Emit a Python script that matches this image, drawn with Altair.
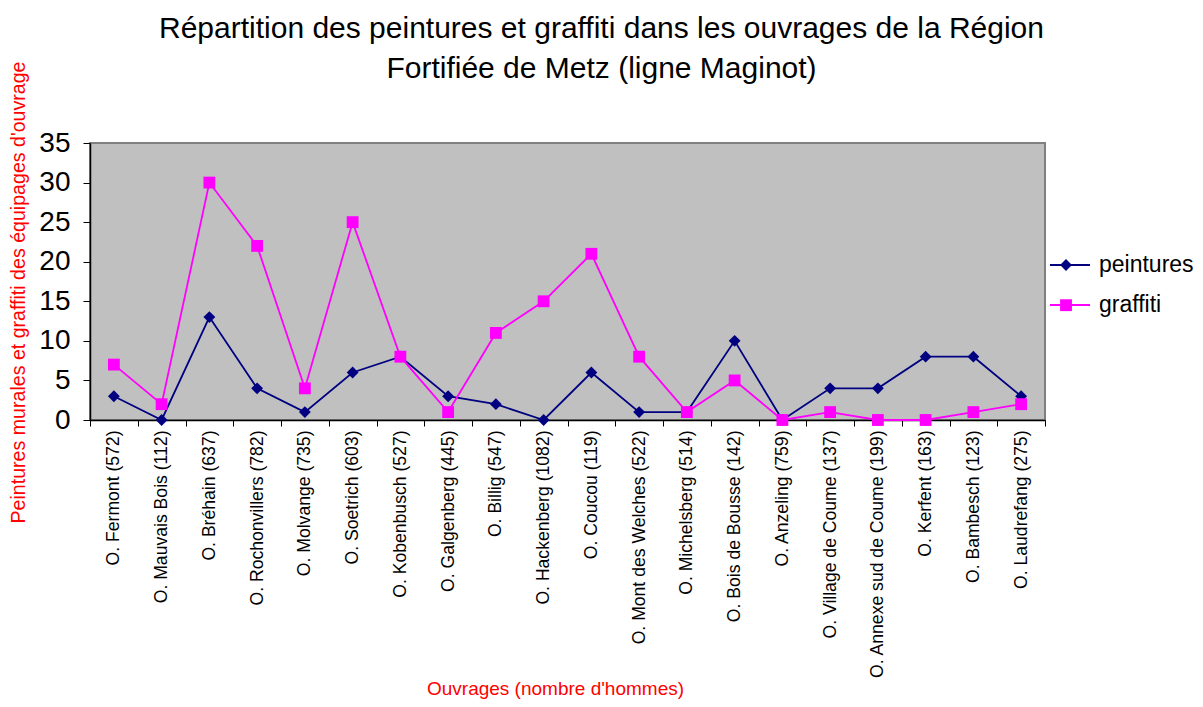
import altair as alt
import pandas as pd

ouvrages = [
    "O. Fermont (572)", "O. Mauvais Bois (112)", "O. Bréhain (637)",
    "O. Rochonvillers (782)", "O. Molvange (735)", "O. Soetrich (603)",
    "O. Kobenbusch (527)", "O. Galgenberg (445)", "O. Billig (547)",
    "O. Hackenberg (1082)", "O. Coucou (119)", "O. Mont des Welches (522)",
    "O. Michelsberg (514)", "O. Bois de Bousse (142)", "O. Anzeling (759)",
    "O. Village de Coume (137)", "O. Annexe sud de Coume (199)",
    "O. Kerfent (163)", "O. Bambesch (123)", "O. Laudrefang (275)",
]
peintures = [3, 0, 13, 4, 1, 6, 8, 3, 2, 0, 6, 1, 1, 10, 0, 4, 4, 8, 8, 3]
graffiti = [7, 2, 30, 22, 4, 25, 8, 1, 11, 15, 21, 8, 1, 5, 0, 1, 0, 0, 1, 2]
series_names = ["peintures", "graffiti"]
series_colors = ["#000080", "#FF00FF"]
series_shapes = ["diamond", "square"]
marker_keys = [n + "_m" for n in series_names]  # separate key so the marker legend stays apart

rows = []
for name, mk, vals in zip(series_names, marker_keys, [peintures, graffiti]):
    for o, v in zip(ouvrages, vals):
        rows.append({"ouvrage": o, "valeur": v, "serie": name, "serie_m": mk})
df = pd.DataFrame(rows)

FONT = "Liberation Sans"

x_enc = alt.X(
    "ouvrage:N", sort=ouvrages,
    scale=alt.Scale(paddingInner=0, paddingOuter=0),
    axis=alt.Axis(
        title="Ouvrages (nombre d'hommes)", titleColor="#FF0000", titleFontSize=19,
        titleFontWeight="normal", titleFont=FONT, titleX=465, titleY=268,
        titleAnchor="middle", titleAlign="center", titleBaseline="middle",
        labelAngle=-90, labelFontSize=17.6, labelFont=FONT, labelColor="#000000",
        labelPadding=4, labelAlign="right", labelBaseline="middle", labelLimit=0,
        tickBand="extent", tickSize=6, tickColor="#000000", domainColor="#000000",
        domainWidth=1.5, grid=False, labelOverlap=False,
    ),
)
y_enc = alt.Y(
    "valeur:Q", scale=alt.Scale(domain=[0, 35], nice=False),
    axis=alt.Axis(
        title="Peintures murales et graffiti des équipages d'ouvrage",
        titleColor="#FF0000", titleFontSize=19.6, titleFontWeight="normal", titleFont=FONT,
        titleAngle=-90, titleX=-72, titleY=149, titleAlign="center", titleBaseline="middle",
        values=[0, 5, 10, 15, 20, 25, 30, 35], labelFontSize=28, labelFont=FONT,
        labelColor="#000000", labelPadding=13, tickSize=7, tickColor="#000000",
        domainColor="#000000", domainWidth=1.5, grid=False,
    ),
)

base = alt.Chart(df)
# legend with the series lines and their names
lines = base.mark_line(strokeWidth=1.8).encode(
    x=x_enc, y=y_enc,
    stroke=alt.Stroke(
        "serie:N", sort=series_names,
        scale=alt.Scale(domain=series_names, range=series_colors),
        legend=alt.Legend(
            title=None, orient="none", legendX=959, legendY=101, symbolType="stroke",
            symbolSize=1600, symbolStrokeWidth=1.8, rowPadding=7, labelFontSize=23,
            labelFont=FONT, labelColor="#000000", labelOffset=8,
        ),
    ),
)
# legend with only the markers, drawn over the legend lines
marker_legend = alt.Legend(
    title=None, orient="none", legendX=970, legendY=116, symbolSize=140,
    rowPadding=28.2, labelExpr="''", labelOffset=0, labelFontSize=1,
    symbolStrokeWidth=0, symbolOpacity=1,
)
points = base.mark_point(filled=True, size=140, opacity=1).encode(
    x=x_enc, y=y_enc,
    fill=alt.Fill(
        "serie_m:N", sort=marker_keys,
        scale=alt.Scale(domain=marker_keys, range=series_colors),
        legend=marker_legend,
    ),
    shape=alt.Shape(
        "serie_m:N", sort=marker_keys,
        scale=alt.Scale(domain=marker_keys, range=series_shapes),
        legend=marker_legend,
    ),
)

chart = (
    alt.layer(lines, points)
    .properties(
        width=955, height=277,
        title=alt.TitleParams(
            text=["Répartition des peintures et graffiti dans les ouvrages de la Région",
                  "Fortifiée de Metz (ligne Maginot)"],
            fontSize=30, font=FONT, fontWeight="normal", color="#000000",
            anchor="middle", offset=-23, lineHeight=40, dx=34,
        ),
        autosize=alt.AutoSizeParams(type="none"),
        padding={"left": 82, "top": 135, "right": 150, "bottom": 279},
    )
    .configure_view(fill="#C0C0C0", stroke="#808080", strokeWidth=2)
)

chart.save("out.html", embed_options={"renderer": "svg", "actions": False})
